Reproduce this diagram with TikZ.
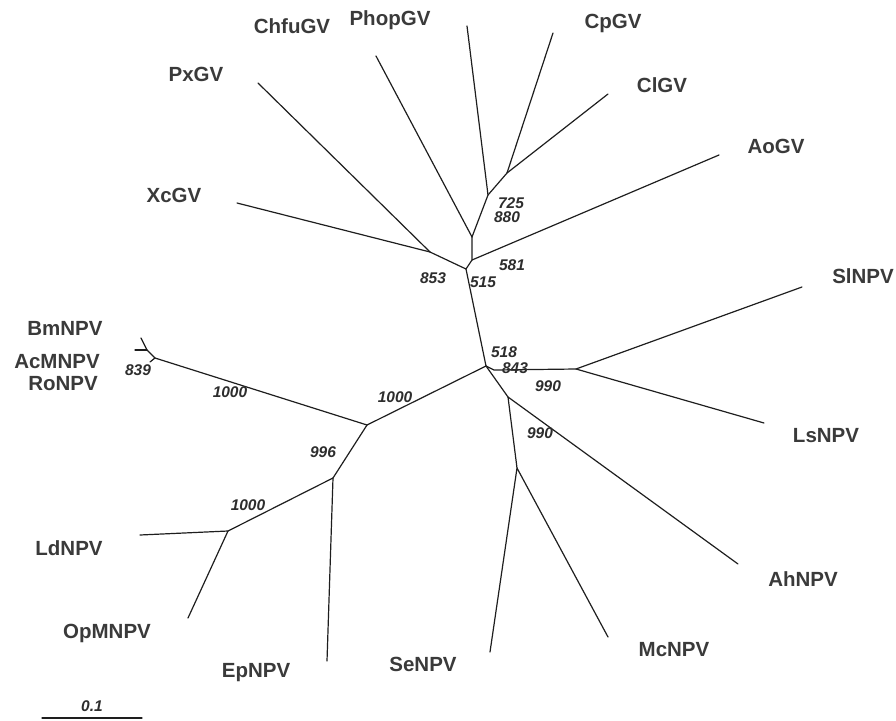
\documentclass[tikz,border=0pt]{standalone}
\usepackage{fontspec}
\setmainfont{Liberation Sans}
\begin{document}
\begin{tikzpicture}[x=1pt,y=-1pt,
  branch/.style={draw={rgb,255:red,30;green,30;blue,30}, line width=1.2pt, line cap=round, line join=round},
  taxon/.style={inner sep=0pt, anchor=base, text={rgb,255:red,58;green,58;blue,58}, font=\fontsize{20.5}{24}\selectfont\bfseries},
  boot/.style={inner sep=0pt, anchor=base, text={rgb,255:red,45;green,45;blue,45}, font=\fontsize{15.5}{18}\selectfont\bfseries\itshape}]
\useasboundingbox (0,0) rectangle (896,720);
% tips and internal nodes
\coordinate (tPhop) at (467,26);
\coordinate (tCp) at (553,33);
\coordinate (tCl) at (608,94);
\coordinate (n1) at (507,173);
\coordinate (n2) at (488,195);
\coordinate (tChfu) at (376,56);
\coordinate (n3) at (472,237);
\coordinate (tAo) at (719,155);
\coordinate (n4) at (472,260);
\coordinate (n5) at (466,269);
\coordinate (n6) at (430,252);
\coordinate (tPx) at (258,83);
\coordinate (tXc) at (237,203);
\coordinate (n7) at (486,366);
\coordinate (n8) at (494,370);
\coordinate (n10) at (576,369);
\coordinate (tSl) at (802,287);
\coordinate (tLs) at (764,423);
\coordinate (n9) at (508,397);
\coordinate (tAh) at (738,564);
\coordinate (n11) at (517,468);
\coordinate (tSe) at (490,652);
\coordinate (tMc) at (608,637);
\coordinate (n12) at (367,425);
\coordinate (n13) at (155,358);
\coordinate (nAc) at (147,350);
\coordinate (tBm) at (141,338);
\coordinate (tAc) at (135,350);
\coordinate (tRo) at (150,362);
\coordinate (n14) at (333,478);
\coordinate (tEp) at (327,661);
\coordinate (n15) at (228,531);
\coordinate (tLd) at (140,535);
\coordinate (tOp) at (188,618);
\coordinate (sb1) at (42,718);
\coordinate (sb2) at (142,718);
% branches
\draw[branch] (tPhop) -- (n2);
\draw[branch] (tCp) -- (n1);
\draw[branch] (tCl) -- (n1);
\draw[branch] (n1) -- (n2) -- (n3);
\draw[branch] (tChfu) -- (n3);
\draw[branch] (n3) -- (n4) -- (n5);
\draw[branch] (tAo) -- (n4);
\draw[branch] (tPx) -- (n6);
\draw[branch] (tXc) -- (n6);
\draw[branch] (n6) -- (n5) -- (n7);
\draw[branch] (n7) -- (n8) -- (n10);
\draw[branch] (tSl) -- (n10) -- (tLs);
\draw[branch] (n7) -- (n9);
\draw[branch] (n9) -- (tAh);
\draw[branch] (n9) -- (n11);
\draw[branch] (tSe) -- (n11) -- (tMc);
\draw[branch] (n7) -- (n12);
\draw[branch] (n12) -- (n13);
\draw[branch] (tBm) -- (nAc) -- (n13);
\draw[branch] (tAc) -- (nAc);
\draw[branch] (n13) -- (tRo);
\draw[branch] (n12) -- (n14);
\draw[branch] (n14) -- (tEp);
\draw[branch] (n14) -- (n15);
\draw[branch] (tLd) -- (n15) -- (tOp);
\draw[branch] (sb1) -- (sb2);
% taxon labels
\node[taxon] (lChfu) at (292,33) {ChfuGV};
\node[taxon] (lPhop) at (390,25) {PhopGV};
\node[taxon] (lCp) at (613,28) {CpGV};
\node[taxon] (lCl) at (662,92) {ClGV};
\node[taxon] (lAo) at (776,153) {AoGV};
\node[taxon] (lPx) at (196,81) {PxGV};
\node[taxon] (lXc) at (174,202) {XcGV};
\node[taxon] (lSl) at (863,283) {SlNPV};
\node[taxon] (lBm) at (65,335) {BmNPV};
\node[taxon] (lAc) at (57,368) {AcMNPV};
\node[taxon] (lRo) at (63,390) {RoNPV};
\node[taxon] (lLs) at (826,442) {LsNPV};
\node[taxon] (lLd) at (69,555) {LdNPV};
\node[taxon] (lOp) at (107,638) {OpMNPV};
\node[taxon] (lEp) at (256,677) {EpNPV};
\node[taxon] (lSe) at (423,671) {SeNPV};
\node[taxon] (lMc) at (674,656) {McNPV};
\node[taxon] (lAh) at (803,586) {AhNPV};
% bootstrap values
\node[boot] (b725) at (511,208) {725};
\node[boot] (b880) at (507,222.5) {880};
\node[boot] (b581) at (512,270.5) {581};
\node[boot] (b853) at (433,283.5) {853};
\node[boot] (b515) at (483,287.5) {515};
\node[boot] (b518) at (504,357.5) {518};
\node[boot] (b843) at (515,373.5) {843};
\node[boot] (b990a) at (548,391.5) {990};
\node[boot] (b990b) at (540,438.5) {990};
\node[boot] (b1000a) at (395,402.5) {1000};
\node[boot] (b1000b) at (230,397.5) {1000};
\node[boot] (b996) at (323,457.5) {996};
\node[boot] (b1000c) at (248,510.5) {1000};
\node[boot] (b839) at (138,375.5) {839};
\node[boot] (scale) at (92,711) {0.1};
\end{tikzpicture}
\end{document}
